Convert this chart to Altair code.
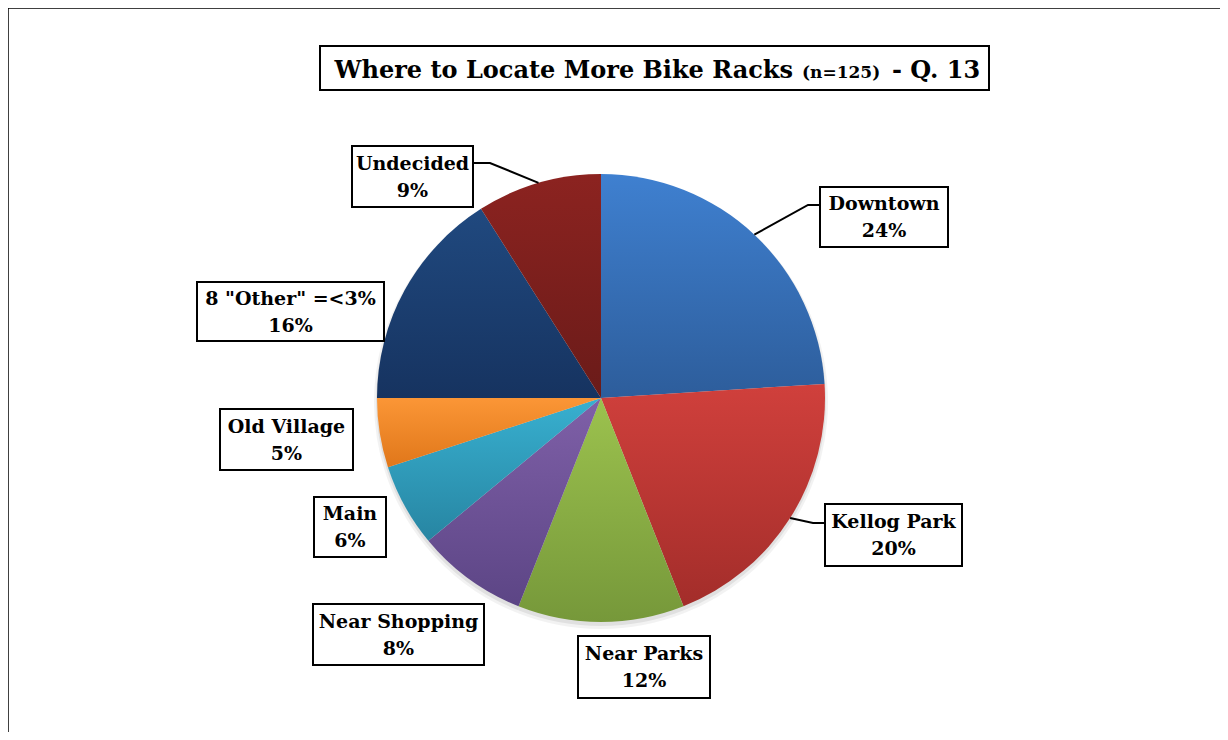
import math
import altair as alt
import pandas as pd

# ---- data ----
categories = ["Downtown", "Kellog Park", "Near Parks", "Near Shopping", "Main",
              "Old Village", '8 "Other" =<3%', "Undecided"]
values = [24, 20, 12, 8, 6, 5, 16, 9]
pct_labels = ["24%", "20%", "12%", "8%", "6%", "5%", "16%", "9%"]

# gradient colours per slice (top, bottom)
grad_top = ["#3f80d0", "#d0403c", "#9cc24e", "#7f60a8", "#38b0d0", "#fb9636", "#20497f", "#8c2320"]
grad_bot = ["#2d5d9b", "#a32d2a", "#76983a", "#5c4585", "#2785a2", "#e0771a", "#163360", "#6a1b19"]

# ---- layout (page coordinates, converted below) ----
M = 8
CX, CY, R = 601 - M, 398 - M, 224
FONT = "DejaVu Serif"
# label box centre x, centre y, width, height
label_box = {
    "Downtown": (884, 217, 128, 60),
    "Kellog Park": (893.5, 535, 137, 62),
    "Near Parks": (644, 667, 132, 62),
    "Near Shopping": (398.5, 634.5, 171, 61),
    "Main": (350, 527, 72, 60),
    "Old Village": (286.5, 439.5, 133, 61),
    '8 "Other" =<3%': (290.5, 311.5, 187, 59),
    "Undecided": (412.5, 176.5, 121, 61),
}
# leader lines: elbow point and box attachment point
leaders = {
    "Downtown": [(808, 205), (820, 205)],
    "Kellog Park": [(813, 523), (825, 523)],
    "Undecided": [(490, 163), (473, 163)],
}

df = pd.DataFrame({"cat": categories, "value": values, "pct": pct_labels,
                   "idx": list(range(len(categories)))})

# label table
lab_rows = []
for c, p in zip(categories, pct_labels):
    bx, by, bw, bh = label_box[c]
    lab_rows.append({"cat": c, "pct": p, "cx": bx - M, "cy": by - M,
                     "x1": bx - bw / 2 - M, "x2": bx + bw / 2 - M,
                     "y1": by - bh / 2 - M, "y2": by + bh / 2 - M})
lab_df = pd.DataFrame(lab_rows)

# leader lines start at slice mid-angle on the pie edge
total = sum(values)
cum = 0
line_rows = []
for c, v in zip(categories, values):
    mid = (cum + v / 2) / total * 2 * math.pi
    cum += v
    if c in leaders:
        pts = [(CX + R * math.sin(mid), CY - R * math.cos(mid))] + \
              [(x - M, y - M) for x, y in leaders[c]]
        for k, (x, y) in enumerate(pts):
            line_rows.append({"cat": c, "k": k, "px": x, "py": y})
line_df = pd.DataFrame(line_rows)


def grad(i):
    return {"gradient": "linear", "x1": 0, "y1": 0, "x2": 0, "y2": 1,
            "stops": [{"offset": 0, "color": grad_top[i]},
                      {"offset": 1, "color": grad_bot[i]}]}


fill_enc = {"condition": [{"test": f"datum.idx === {i}", "value": grad(i)}
                          for i in range(len(categories) - 1)],
            "value": grad(len(categories) - 1)}

base_pie = alt.Chart(df).encode(
    theta=alt.Theta("value:Q", stack=True),
    order=alt.Order("idx:Q"),
)

shadow1 = base_pie.mark_arc(outerRadius=R + 3, fill="#000000", opacity=0.05).encode(
    x=alt.value(CX), y=alt.value(CY + 4))
shadow2 = base_pie.mark_arc(outerRadius=R + 1, fill="#000000", opacity=0.07).encode(
    x=alt.value(CX), y=alt.value(CY + 3))

pie = base_pie.mark_arc(outerRadius=R, stroke=None).encode(
    x=alt.value(CX), y=alt.value(CY), fill=fill_enc,
    tooltip=["cat:N", "value:Q"])

XS = dict(scale=None, axis=None)

boxes = alt.Chart(lab_df).mark_rect(fill="white", stroke="black", strokeWidth=2).encode(
    x=alt.X("x1:Q", **XS), x2="x2:Q", y=alt.Y("y1:Q", **XS), y2="y2:Q")

LBL = 19
name_txt = alt.Chart(lab_df).mark_text(font=FONT, fontSize=LBL, fontWeight="bold",
                                       color="black", baseline="middle", dy=-13).encode(
    x=alt.X("cx:Q", **XS), y=alt.Y("cy:Q", **XS), text="cat:N")
pct_txt = alt.Chart(lab_df).mark_text(font=FONT, fontSize=LBL, fontWeight="bold",
                                      color="black", baseline="middle", dy=14).encode(
    x=alt.X("cx:Q", **XS), y=alt.Y("cy:Q", **XS), text="pct:N")

lines = alt.Chart(line_df).mark_line(color="black", strokeWidth=2).encode(
    x=alt.X("px:Q", **XS), y=alt.Y("py:Q", **XS), detail="cat:N", order="k:Q")

# title
title_box = alt.Chart(pd.DataFrame({"a": [0]})).mark_rect(
    fill="white", stroke="black", strokeWidth=2).encode(
    x=alt.value(320 - M), x2=alt.value(989 - M), y=alt.value(46 - M), y2=alt.value(90 - M))
t1 = alt.Chart(pd.DataFrame({"t": ["Where to Locate More Bike Racks"]})).mark_text(
    font=FONT, fontSize=24, fontWeight="bold", align="right", baseline="alphabetic").encode(
    x=alt.value(793 - M), y=alt.value(78 - M), text="t:N")
t2 = alt.Chart(pd.DataFrame({"t": ["(n=125)"]})).mark_text(
    font=FONT, fontSize=17, fontWeight="bold", align="left", baseline="alphabetic").encode(
    x=alt.value(802 - M), y=alt.value(78 - M), text="t:N")
t3 = alt.Chart(pd.DataFrame({"t": ["- Q. 13"]})).mark_text(
    font=FONT, fontSize=24, fontWeight="bold", align="left", baseline="alphabetic").encode(
    x=alt.value(892 - M), y=alt.value(78 - M), text="t:N")

# outer frame (top and left edges visible)
frame_top = alt.Chart(pd.DataFrame({"a": [0]})).mark_rule(color="black", strokeWidth=1.5).encode(
    x=alt.value(-1), x2=alt.value(1230), y=alt.value(0))
frame_left = alt.Chart(pd.DataFrame({"a": [0]})).mark_rule(color="black", strokeWidth=1.5).encode(
    x=alt.value(0), y=alt.value(0), y2=alt.value(740))

chart = alt.layer(
    frame_top, frame_left, shadow1, shadow2, pie, lines, boxes, name_txt, pct_txt,
    title_box, t1, t2, t3
).properties(
    width=1212, height=724, padding=0,
    autosize=alt.AutoSizeParams(type="none"),
).configure_view(stroke=None)

chart.save("out.html", embed_options={"renderer": "svg", "actions": False})
